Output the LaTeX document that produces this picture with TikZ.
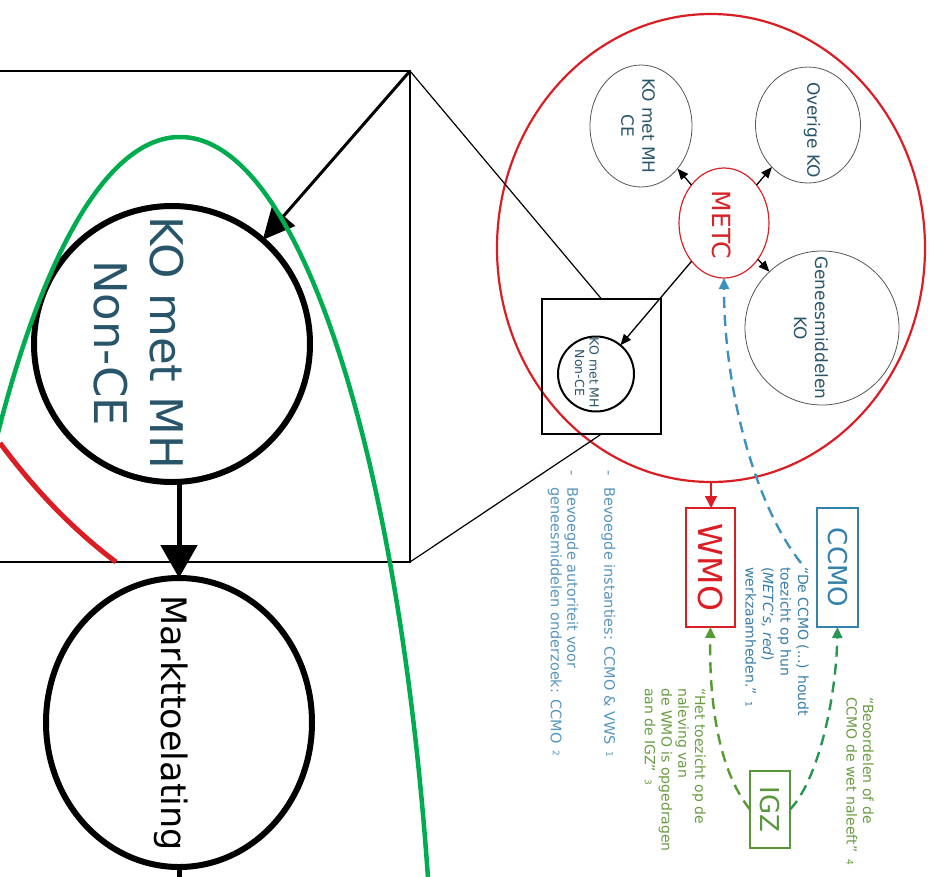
\documentclass[tikz,border=0pt]{standalone}
\usepackage{fontspec}
\setmainfont{DejaVu Sans}
\usetikzlibrary{shapes.geometric,arrows.meta}
\definecolor{redA}{RGB}{218,30,36}
\definecolor{metcred}{RGB}{215,35,40}
\definecolor{bluB}{RGB}{50,130,170}
\definecolor{bluQ}{RGB}{55,125,165}
\definecolor{bluL}{RGB}{85,150,190}
\definecolor{bluD}{RGB}{60,145,190}
\definecolor{txtA}{RGB}{40,85,105}
\definecolor{grnB}{RGB}{90,150,60}
\definecolor{grnT}{RGB}{105,155,65}
\definecolor{grnL}{RGB}{85,155,50}
\definecolor{grnD}{RGB}{40,150,85}
\definecolor{grnI}{RGB}{0,172,80}
\definecolor{grayC}{RGB}{85,85,85}
\newcommand{\fs}[2]{\fontsize{#1}{#2}\selectfont}
\begin{document}
\begin{tikzpicture}[x=1pt,y=-1pt,
  ell/.style={ellipse, inner sep=0pt, outer sep=0pt},
  rtxt/.style={rotate=-90, inner sep=0pt, align=center},
  qtxt/.style={rotate=-90, inner sep=0pt, anchor=north west, align=left},
  boxn/.style={draw, line width=1.5pt, inner sep=0pt, outer sep=0pt},
  sarrow/.style={-{Triangle[length=11pt,width=9pt]}, line width=1.3pt},
  dashA/.style={line width=2.4pt, dash pattern=on 11pt off 7pt, -{Triangle[length=11pt,width=10pt]}}
]
\useasboundingbox (0,0) rectangle (934,876);

% ---------------- right part ----------------
\node[ell, draw=redA, line width=2.2pt, minimum width=428pt, minimum height=468pt] (big) at (711,248) {};
\node[ell, draw=grayC, line width=0.8pt, minimum width=102pt, minimum height=122pt] (ce) at (641,126) {};
\node[ell, draw=grayC, line width=0.8pt, minimum width=105pt, minimum height=116pt] (ov) at (808,125) {};
\node[ell, draw=grayC, line width=0.8pt, minimum width=154pt, minimum height=154pt] (gen) at (822,328) {};
\node[ell, draw=metcred, line width=1.2pt, minimum width=90pt, minimum height=110pt] (metc) at (724,223) {};
\node[ell, draw=black, line width=2pt, minimum width=76pt, minimum height=75pt] (nce) at (596,374) {};

\node[rtxt, text=txtA, font=\fs{17}{21}] (ceT) at (638,126) {KO met MH\\CE};
\node[rtxt, text=txtA, font=\fs{17}{21}] (ovT) at (812,130) {Overige KO};
\node[rtxt, text=txtA, font=\fs{17}{21}] (genT) at (811,328) {Geneesmiddelen\\KO};
\node[rtxt, text=metcred, font=\fs{25}{27}] (metcT) at (722,225) {METC};
\node[rtxt, text=txtA, font=\fs{12.5}{14.5}] (nceT) at (587,373) {KO met MH\\Non-CE};

\node[boxn, draw=black, minimum width=119pt, minimum height=135pt] (sq) at (601.5,366.5) {};

\draw[sarrow] (metc) -- (ce);
\draw[sarrow] (metc) -- (ov);
\draw[sarrow] (metc) -- (gen);
\draw[sarrow] (metc) -- (nce);

\node[boxn, draw=redA, minimum width=49pt, minimum height=119pt] (wmo) at (710.5,567.5) {};
\node[rtxt, text=redA, font=\fs{33}{33}] (wmoT) at (wmo) {WMO};
\node[boxn, draw=bluB, minimum width=41pt, minimum height=119pt] (ccmo) at (837.5,567.5) {};
\node[rtxt, text=bluB, font=\fs{26}{26}] (ccmoT) at (ccmo) {CCMO};
\node[boxn, draw=grnB, minimum width=40pt, minimum height=77pt] (igz) at (770,809.5) {};
\node[rtxt, text=grnB, font=\fs{26}{26}] (igzT) at (igz) {IGZ};

\draw[redA, line width=1.5pt, -{Triangle[length=12pt,width=12pt]}] (big.south) -- (big.south |- wmo.north);

\coordinate (bst) at (801,563);
\draw[dashA, bluD] (bst) .. controls (755,505) and (724,390) .. (metc.south);
\draw[dashA, grnL] (igz.west) .. controls (718,770) and (709,700) .. (wmo.south);
\draw[dashA, grnD] (igz.east) .. controls (818,780) and (836,700) .. (ccmo.south);

\node[qtxt, text=bluQ, font=\fs{14}{17.5}] (qccmo) at (809,567)
  {“De CCMO (...) houdt\\toezicht op hun\\(\textit{METC’s, red})\\werkzaamheden.”\enspace{\fs{9}{9}1}};
\node[qtxt, text=grnT, font=\fs{14}{16.5}] (qbeo) at (874,697)
  {“Beoordelen of de\\CCMO de wet naleeft”\enspace{\fs{9}{9}4}};
\node[qtxt, text=grnT, font=\fs{14}{16.8}] (qhet) at (706,688)
  {“Het toezicht op de\\naleving van\\de WMO is opgedragen\\aan de IGZ”\enspace{\fs{9}{9}3}};

\node[qtxt, text=bluL, font=\fs{14.5}{16.5}] (l1) at (616,470)
  {\begin{tabular}{@{}l@{\hspace{12pt}}l@{}}-&Bevoegde instanties: CCMO \& VWS\enspace{\fs{9}{9}\raisebox{2pt}{1}}\end{tabular}};
\node[qtxt, text=bluL, font=\fs{14.5}{16.5}] (l2) at (579,470)
  {\begin{tabular}{@{}l@{\hspace{12pt}}l@{}}-&Bevoegde autoriteit voor\\&geneesmiddelen onderzoek: CCMO\enspace{\fs{9}{9}\raisebox{2pt}{2}}\end{tabular}};

% ---------------- inset ----------------
\node[boxn, draw=black, line width=1.5pt, minimum width=412pt, minimum height=491pt] (inset) at (204,316.5) {};
\draw[line width=1.2pt] (inset.north east) -- (sq.north);
\draw[line width=1.2pt] (inset.south east) -- (sq.south);

\draw[redA, line width=5pt] (0,443) .. controls (40,497) and (80,535) .. (116,562);

\node[ell, draw=black, line width=6pt, minimum width=276pt, minimum height=276pt] (bnce) at (172,344) {};
\node[rtxt, text=txtA, font=\fs{45}{56}] (bnceT) at (139,343) {KO met MH\\Non-CE};

\node[ell, draw=black, line width=6pt, minimum width=266pt, minimum height=289pt] (markt) at (179,722.5) {};
\node[rtxt, text=black, font=\fs{35}{40}] (marktT) at (171,723) {Markttoelating};

\draw[line width=3pt, -{Triangle[length=32pt,width=30pt]}] (inset.north east) -- (bnce);
\draw[line width=5pt, -{Triangle[length=33pt,width=36pt]}] (markt.north |- bnce.south) -- (markt.north);
\coordinate (mend) at (179,882);
\draw[line width=5pt] (markt.south) -- (mend);

\draw[grnI, line width=4.5pt] (180,1143) ellipse [x radius=257, y radius=1006];
\end{tikzpicture}
\end{document}
